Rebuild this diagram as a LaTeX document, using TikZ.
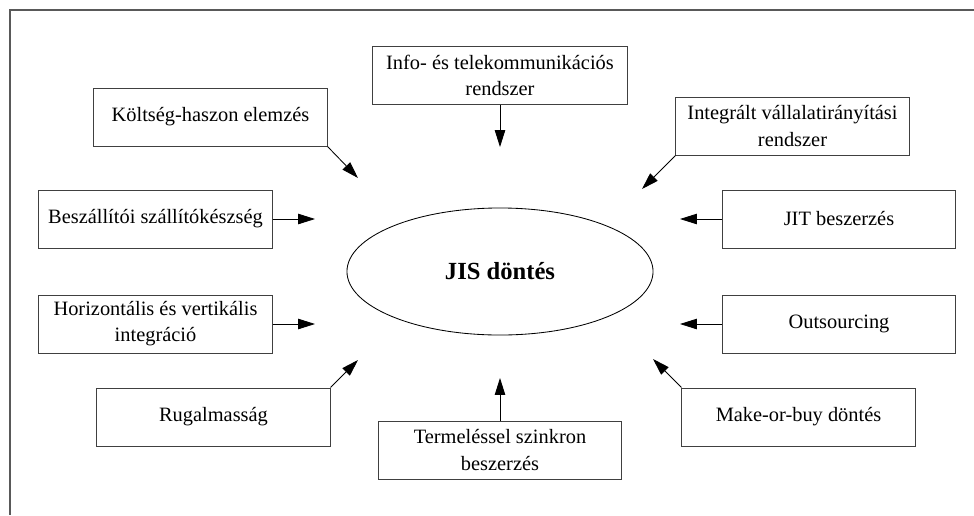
\documentclass[tikz,border=0pt]{standalone}
\usepackage{fontspec}
\setmainfont{Liberation Serif}
\usetikzlibrary{shapes.geometric,arrows.meta}

\tikzset{
  factor/.style={draw=black!75, line width=0.7pt, minimum width=5.825cm, minimum height=1.45cm,
    inner sep=0pt, align=center, font=\fontsize{14.5}{18.5}\selectfont},
  infl/.style={-{Triangle[length=0.42cm,width=0.26cm]}, line width=0.6pt}
}

\begin{document}
\begin{tikzpicture}[x=0.025cm,y=-0.025cm]
                \useasboundingbox (0,0) rectangle (974,515);
                \draw [black!65, line width=1.1pt] (974,10)--(10,10)--(10,515);
                % center
                \node [draw, ellipse, line width=0.6pt, inner sep=0pt, minimum width=7.65cm, minimum height=3.175cm,
                       font=\fontsize{17.5}{21}\selectfont\bfseries] (jis) at (500,271.5) {JIS döntés};
                % factors
                \node [factor, minimum width=6.35cm] (info) at (500,75) {Info- és telekommunikációs\\rendszer};
                \node [factor] (cost) at (210.5,117) {Költség-haszon elemzés};
                \node [factor] (erp) at (792.5,126) {Integrált vállalatirányítási\\rendszer};
                \node [factor] (supplier) at (155.5,219) {Beszállítói szállítókészség};
                \node [factor] (jit) at (839,219) {JIT beszerzés};
                \node [factor] (integr) at (155.5,324) {Horizontális és vertikális\\integráció};
                \node [factor] (outs) at (839,324) {Outsourcing};
                \node [factor] (flex) at (213.5,417) {Rugalmasság};
                \node [factor] (mob) at (798.5,417) {Make-or-buy döntés};
                \node [factor, minimum width=6.05cm] (sync) at (500,450) {Termeléssel szinkron\\beszerzés};
                % arrow ends
                \coordinate (infoE) at (500,147);
                \coordinate (costE) at (358,178);
                \coordinate (erpE) at (642,189);
                \coordinate (supplierE) at (315,219);
                \coordinate (jitE) at (680,219);
                \coordinate (integrE) at (315,324);
                \coordinate (outsE) at (680,324);
                \coordinate (flexE) at (358,360);
                \coordinate (mobE) at (653,359);
                \coordinate (syncE) at (500,378);
                \draw [infl] (info.south) -- (infoE);
                \draw [infl] (cost.south east) -- (costE);
                \draw [infl] (erp.south west) -- (erpE);
                \draw [infl] (supplier.east) -- (supplierE);
                \draw [infl] (jit.west) -- (jitE);
                \draw [infl] (integr.east) -- (integrE);
                \draw [infl] (outs.west) -- (outsE);
                \draw [infl] (flex.north east) -- (flexE);
                \draw [infl] (mob.north west) -- (mobE);
                \draw [infl] (sync.north) -- (syncE);
            \end{tikzpicture}
\end{document}
